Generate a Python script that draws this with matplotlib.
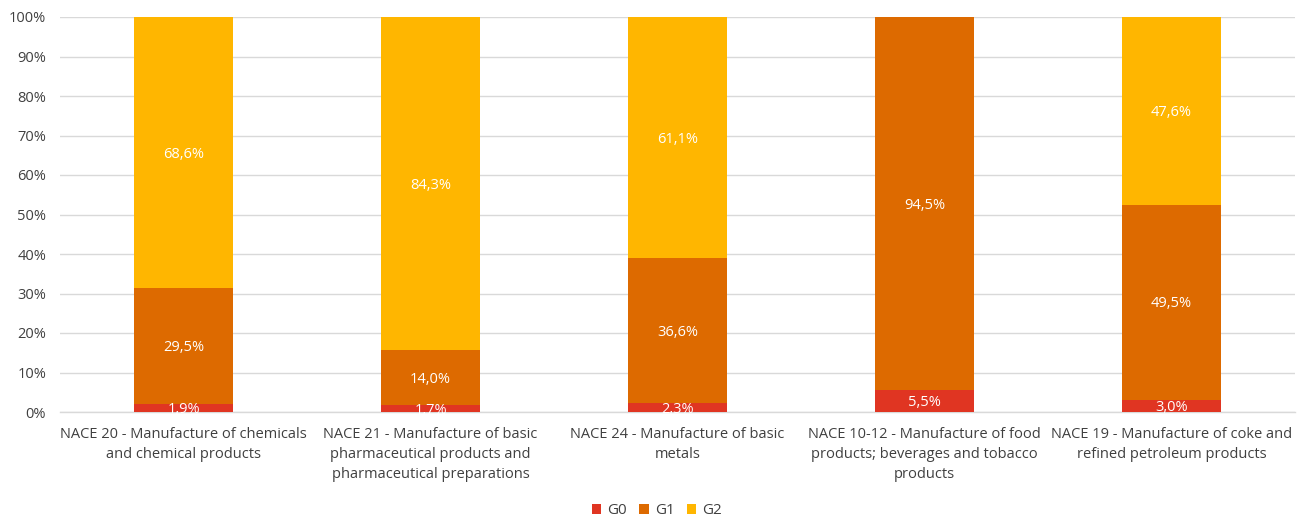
import matplotlib
matplotlib.use("Agg")
import matplotlib.pyplot as plt
import numpy as np

categories = [
    "NACE 20 - Manufacture of chemicals\nand chemical products",
    "NACE 21 - Manufacture of basic\npharmaceutical products and\npharmaceutical preparations",
    "NACE 24 - Manufacture of basic\nmetals",
    "NACE 10-12 - Manufacture of food\nproducts; beverages and tobacco\nproducts",
    "NACE 19 - Manufacture of coke and\nrefined petroleum products",
]
g0 = [1.9, 1.7, 2.3, 5.5, 3.0]
g1 = [29.5, 14.0, 36.6, 94.5, 49.5]
g2 = [68.6, 84.3, 61.1, 0.0, 47.6]
series_names = ["G0", "G1", "G2"]
colors = ["#E03522", "#DD6A00", "#FFB600"]

plt.rcParams['font.family'] = ['Open Sans', 'DejaVu Sans']

fig = plt.figure(figsize=(13.01, 5.23), dpi=100)
ax = fig.add_axes([60/1301, (523-412)/523, (1295-60)/1301, (412-17)/523])

x = np.arange(len(categories))
bottom = np.zeros(len(categories))
handles = []
for vals, name, col in zip([g0, g1, g2], series_names, colors):
    vals = np.array(vals)
    b = ax.bar(x, vals, 0.4, bottom=bottom, color=col, label=name, zorder=3)
    handles.append(b)
    for xi, v, bt in zip(x, vals, bottom):
        if v > 0:
            ax.text(xi, bt + v / 2 - 0.4, f"{v:.1f}%".replace(".", ","), ha="center", va="center",
                    color="white", fontsize=10.5, zorder=4)
    bottom += vals

ax.set_xlim(-0.5, len(categories) - 0.5)
ax.set_ylim(0, 100)
ax.set_yticks(np.arange(0, 101, 10))
ax.set_yticklabels([f"{v}%" for v in range(0, 101, 10)])
ax.set_xticks(x)
ax.set_xticklabels(categories, linespacing=1.45)
ax.tick_params(axis="both", length=0, labelsize=10.5, colors="#404040")
ax.tick_params(axis="x", pad=11)
ax.tick_params(axis="y", pad=10)
ax.yaxis.grid(True, color="#D9D9D9", linewidth=1, zorder=0)
ax.set_axisbelow(True)
for s in ["top", "right", "left"]:
    ax.spines[s].set_visible(False)
ax.spines["bottom"].set_color("#D9D9D9")
ax.spines["bottom"].set_linewidth(1)

fig.legend(handles=handles, labels=series_names, loc="center", bbox_to_anchor=(0.505, 1 - 511/523),
           ncol=3, frameon=False, fontsize=11, handlelength=0.6, handleheight=0.6,
           handletextpad=0.4, columnspacing=0.8, labelcolor="#404040")

fig.savefig("out.png", dpi=100)
